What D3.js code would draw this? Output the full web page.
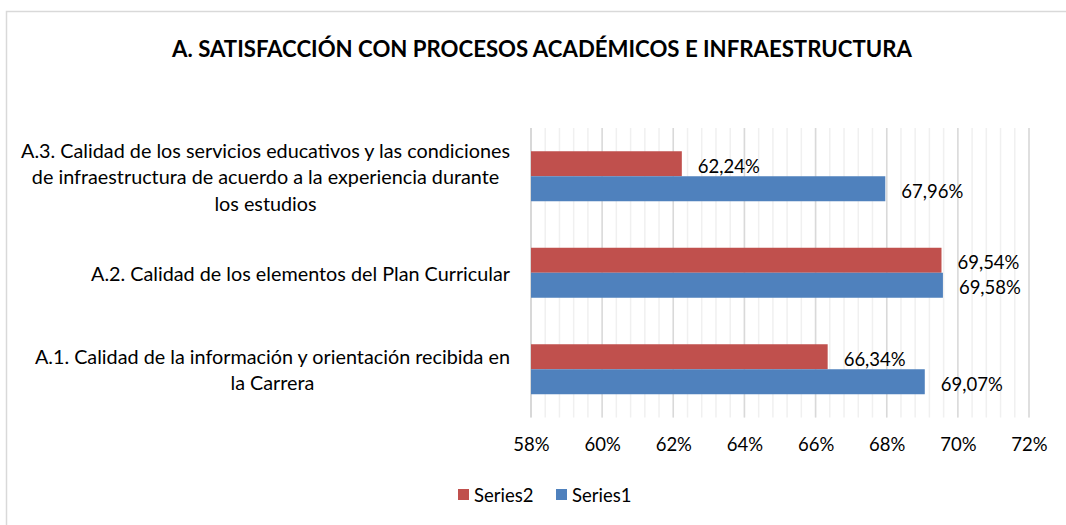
<!DOCTYPE html>
<html>
<head>
<meta charset="utf-8">
<script src="https://cdn.jsdelivr.net/npm/d3@7"></script>
<style>
  html, body { margin: 0; padding: 0; background: #fff; }
  svg { display: block; font-family: Lato, "Open Sans", sans-serif; }
</style>
</head>
<body>
<svg id="chart" width="1066" height="525"></svg>
<script>
// ---- data ----
const title = "A. SATISFACCIÓN CON PROCESOS ACADÉMICOS E INFRAESTRUCTURA";
const categories = ["A.3", "A.2", "A.1"]; // top to bottom
const categoryLabels = [
  ["A.3. Calidad de los servicios educativos y las condiciones",
   "de infraestructura de acuerdo a la experiencia durante",
   "los estudios"],
  ["A.2. Calidad de los elementos del Plan Curricular"],
  ["A.1. Calidad de la información y orientación recibida en",
   "la Carrera"]
];
const seriesNames = ["Series2", "Series1"];
const series2 = [0.6224, 0.6954, 0.6634];
const series1 = [0.6796, 0.6958, 0.6907];
const tickValues = [0.58, 0.60, 0.62, 0.64, 0.66, 0.68, 0.70, 0.72];
const colors = { Series2: "#C0504D", Series1: "#4F81BD" };

// ---- layout ----
const svg = d3.select("#chart");
const plot = { left: 531, right: 1029, top: 128, bottom: 417.5 };
const numSize = 18.5;
const catSize = 19.8;

const x = d3.scaleLinear().domain([0.58, 0.72]).range([plot.left, plot.right]);
const y = d3.scaleBand().domain(categories).range([plot.top, plot.bottom]).padding(0);
const ySub = d3.scaleBand().domain(seriesNames).range([0, y.bandwidth()])
  .paddingInner(0).paddingOuter(0.93);

// chart border
svg.append("rect")
  .attr("x", 6.5).attr("y", 11.5).attr("width", 1100).attr("height", 600)
  .attr("fill", "none").attr("stroke", "#d9d9d9").attr("stroke-width", 1.5);

// title
svg.append("text")
  .attr("x", 542).attr("y", 48)
  .attr("text-anchor", "middle").attr("dominant-baseline", "central")
  .attr("font-weight", "bold").attr("font-size", 22.2).attr("fill", "#000")
  .text(title);

// minor gridlines
const minor = d3.range(0, 36).map(i => 0.58 + i * 0.004);
svg.append("g").selectAll("line").data(minor).join("line")
  .attr("x1", d => x(d)).attr("x2", d => x(d))
  .attr("y1", plot.top).attr("y2", plot.bottom)
  .attr("stroke", "#f0f0f0").attr("stroke-width", 1.5);

// major gridlines
svg.append("g").selectAll("line").data(tickValues).join("line")
  .attr("x1", d => x(d)).attr("x2", d => x(d))
  .attr("y1", plot.top).attr("y2", plot.bottom)
  .attr("stroke", d => d === 0.58 ? "#cfcfcf" : "#d9d9d9").attr("stroke-width", 1.5);

// x axis labels
const xAxis = d3.axisBottom(x).tickValues(tickValues)
  .tickFormat(d => Math.round(d * 100) + "%").tickSize(0).tickPadding(0);
const gx = svg.append("g").attr("transform", `translate(0,${plot.bottom})`).call(xAxis);
gx.select(".domain").remove();
gx.selectAll("text")
  .attr("y", 27.5).attr("dy", "0.35em")
  .attr("font-family", "Lato, 'Open Sans', sans-serif")
  .attr("font-size", numSize).attr("fill", "#000");

// bars
const rows = categories.map((c, i) => ({ cat: c, values: [
  { s: "Series2", v: series2[i] }, { s: "Series1", v: series1[i] } ] }));

const groups = svg.append("g").selectAll("g").data(rows).join("g")
  .attr("transform", d => `translate(0,${y(d.cat)})`);

groups.selectAll("rect").data(d => d.values).join("rect")
  .attr("x", x(0.58))
  .attr("y", d => ySub(d.s))
  .attr("width", d => x(d.v) - x(0.58))
  .attr("height", ySub.bandwidth())
  .attr("fill", d => colors[d.s]);

groups.selectAll("text.val").data(d => d.values).join("text")
  .attr("class", "val")
  .attr("x", d => x(d.v) + 16)
  .attr("y", d => ySub(d.s) + ySub.bandwidth() / 2 + 2)
  .attr("dominant-baseline", "central")
  .attr("font-size", numSize).attr("fill", "#000")
  .text(d => (d.v * 100).toFixed(2).replace(".", ",") + "%");

// category labels
const labelRight = 510;
const lineH = 26.3;
categories.forEach((c, i) => {
  const lines = categoryLabels[i];
  const g = svg.append("g");
  const cy = y(c) + y.bandwidth() / 2;
  const texts = lines.map((ln, j) => g.append("text")
    .attr("y", cy + (j - (lines.length - 1) / 2) * lineH)
    .attr("dominant-baseline", "central")
    .attr("text-anchor", "middle")
    .attr("font-size", catSize).attr("fill", "#000")
    .text(ln));
  const maxW = d3.max(texts, t => t.node().getComputedTextLength());
  texts.forEach(t => t.attr("x", labelRight - maxW / 2));
});

// legend
const legendItems = [
  { s: "Series2", x: 458 },
  { s: "Series1", x: 556 }
];
const lg = svg.append("g").selectAll("g").data(legendItems).join("g")
  .attr("transform", d => `translate(${d.x},489)`);
lg.append("rect").attr("width", 11).attr("height", 11).attr("fill", d => colors[d.s]);
lg.append("text").attr("x", 16).attr("y", 6).attr("dominant-baseline", "central")
  .attr("font-size", numSize).attr("fill", "#000").text(d => d.s);
</script>
</body>
</html>
